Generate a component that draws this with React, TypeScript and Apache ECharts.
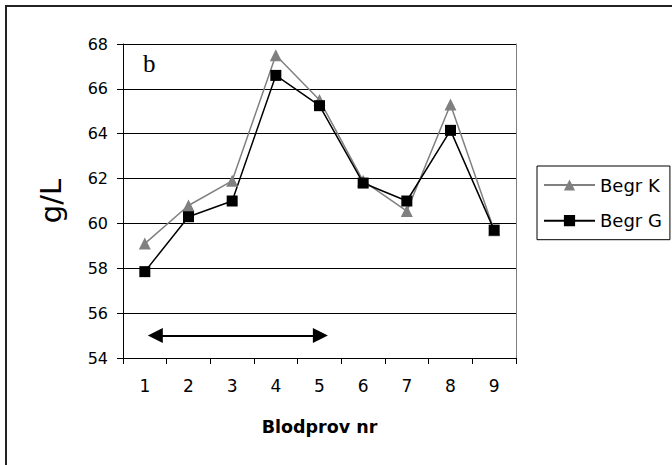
import React, { useEffect, useRef } from "react";
import * as echarts from "echarts";

const categories = ["1", "2", "3", "4", "5", "6", "7", "8", "9"];
const begrK = [59.1, 60.8, 61.9, 67.5, 65.5, 61.9, 60.55, 65.3, 59.7];
const begrG = [57.85, 60.3, 61.0, 66.6, 65.25, 61.8, 61.0, 64.15, 59.7];
const yTicks = { min: 54, max: 68, interval: 2 };
const arrowX = [1.24, 5.02];
const arrowY = 55;

export default function App() {
  const ref = useRef<HTMLDivElement>(null);
  useEffect(() => {
    document.body.style.margin = "0";
    const chart = echarts.init(ref.current!, null, { renderer: "svg" });
    const font = "DejaVu Sans, Liberation Sans, Arial, sans-serif";
    chart.setOption({
      animation: false,
      backgroundColor: "#fff",
      textStyle: { fontFamily: font },
      grid: {
        left: 123,
        top: 44,
        right: 156,
        bottom: 107,
        show: false,
      },
      legend: {
        orient: "vertical",
        left: 537,
        top: 166,
        padding: [10, 8, 10, 6],
        itemGap: 17.7,
        itemWidth: 51,
        itemHeight: 14,
        borderColor: "#000",
        borderWidth: 1,
        textStyle: { fontSize: 18, color: "#000", fontFamily: font },
        data: ["Begr K", "Begr G"],
      },
      xAxis: [
        {
          type: "category",
          data: categories,
          boundaryGap: true,
          axisLine: { lineStyle: { color: "#000", width: 1 } },
          axisTick: { show: true, length: 6, lineStyle: { color: "#000" } },
          axisLabel: { color: "#000", fontSize: 17, margin: 19, fontFamily: font },
          name: "Blodprov nr",
          nameLocation: "middle",
          nameGap: 60,
          nameTextStyle: { fontSize: 17.5, fontWeight: "bold", color: "#000", fontFamily: font },
        },
        {
          type: "value",
          min: 0.5,
          max: 9.5,
          show: false,
          position: "bottom",
        },
      ],
      yAxis: [
        {
          type: "value",
          min: yTicks.min,
          max: yTicks.max,
          interval: yTicks.interval,
          axisLine: { show: true, lineStyle: { color: "#000", width: 1 } },
          axisTick: { show: true, length: 6, lineStyle: { color: "#000" } },
          axisLabel: { color: "#000", fontSize: 16, margin: 15, fontFamily: font },
          splitLine: { show: true, lineStyle: { color: "#000", width: 1 } },
          name: "g/L",
          nameLocation: "middle",
          nameRotate: 90,
          nameGap: 58,
          nameTextStyle: { fontSize: 29, color: "#000", fontFamily: font },
        },
        {
          type: "value",
          position: "right",
          min: yTicks.min,
          max: yTicks.max,
          interval: yTicks.interval,
          axisLine: { show: true, lineStyle: { color: "#808080", width: 1 } },
          axisTick: { show: false },
          axisLabel: { show: false },
          splitLine: { show: false },
        },
      ],
      series: [
        {
          name: "Begr K",
          type: "line",
          data: begrK,
          symbol: "triangle",
          symbolSize: 12,
          lineStyle: { color: "#808080", width: 1.5 },
          itemStyle: { color: "#808080" },
        },
        {
          name: "Begr G",
          type: "line",
          data: begrG,
          symbol: "rect",
          symbolSize: 11,
          lineStyle: { color: "#000", width: 1.5 },
          itemStyle: { color: "#000" },
        },
        {
          name: "arrow",
          type: "line",
          xAxisIndex: 1,
          data: [],
          markLine: {
            silent: true,
            symbol: ["triangle", "triangle"],
            symbolSize: [15, 15],
            label: { show: false },
            lineStyle: { color: "#000", width: 2, type: "solid" },
            data: [[{ coord: [arrowX[0], arrowY] }, { coord: [arrowX[1], arrowY] }]],
          },
        },
      ],
      graphic: [
        {
          type: "rect",
          shape: { x: 6, y: 6, width: 680, height: 480 },
          style: { fill: "none", stroke: "#222", lineWidth: 2 },
          z: 100,
        },
        {
          type: "text",
          left: 143,
          top: 51,
          style: {
            text: "b",
            fontSize: 25,
            fontFamily: "Liberation Serif, Times New Roman, serif",
            fill: "#000",
          },
        },
      ],
    });
    return () => chart.dispose();
  }, []);
  return <div ref={ref} style={{ width: 672, height: 465 }} />;
}
